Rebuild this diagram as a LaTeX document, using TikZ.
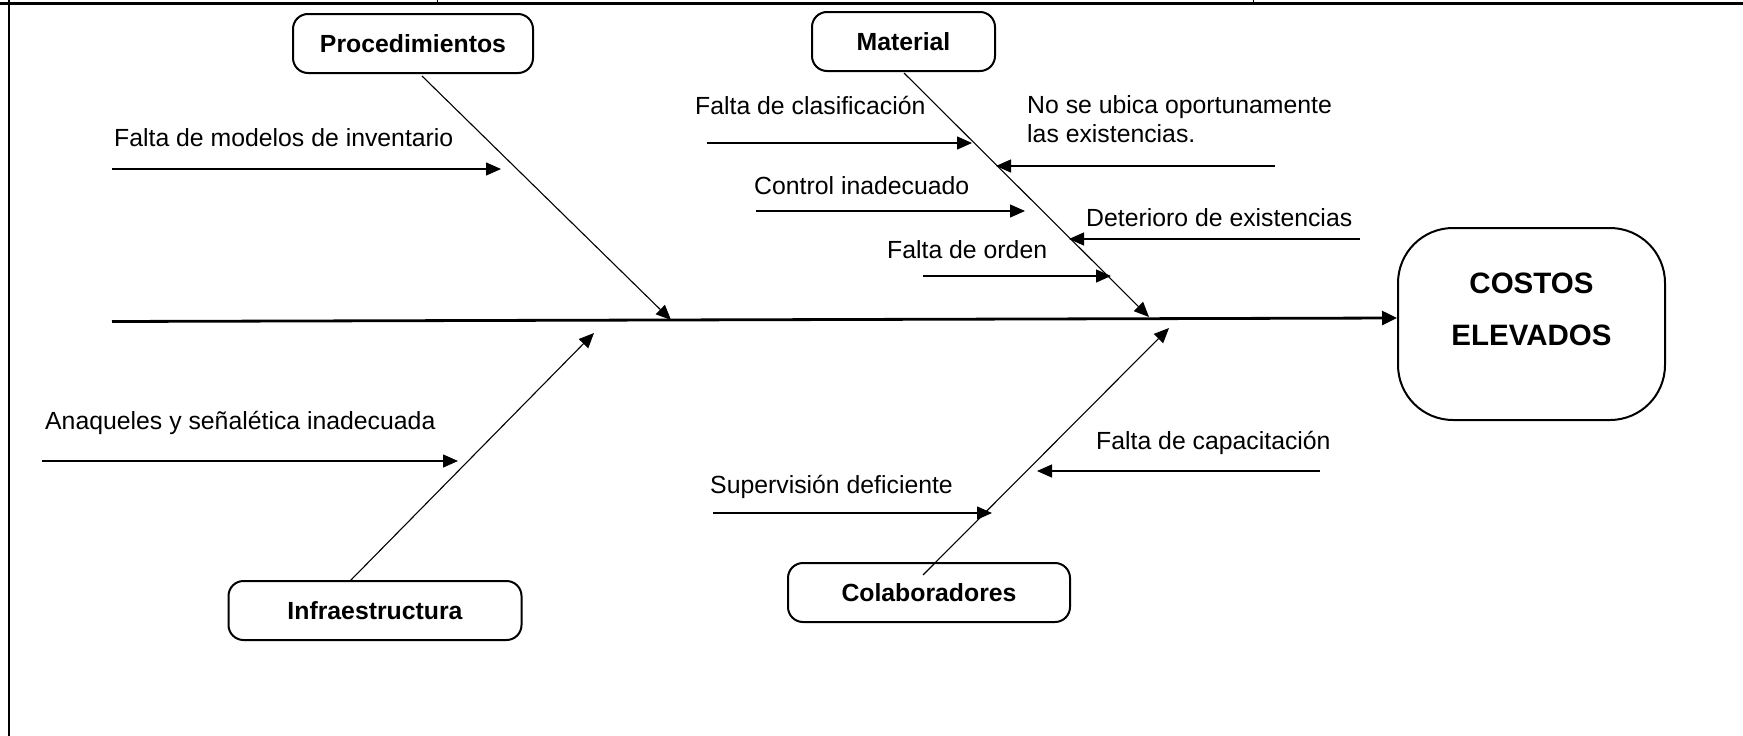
\documentclass[tikz,border=0pt]{standalone}
\usepackage{fontspec}
\setmainfont{Liberation Sans}
\usetikzlibrary{arrows.meta}
\tikzset{
  catbox/.style={draw, line width=2pt, rounded corners=15pt, inner sep=0pt,
    font=\bfseries\fontsize{24.8}{30}\selectfont},
  effbox/.style={draw, line width=2pt, rounded corners=55pt, inner sep=0pt},
  lbl/.style={font=\fontsize{24.8}{29}\selectfont, anchor=base west, inner sep=0pt},
  cause/.style={line width=1.3pt, -{Triangle[length=15pt,width=13pt]}},
  bone/.style={line width=1.1pt, -{Triangle[length=15pt,width=13pt]}},
  spine/.style={line width=2.8pt, -{Triangle[length=15pt,width=14pt]}},
  frame/.style={line width=2.4pt}
}
\begin{document}
\begin{tikzpicture}[x=1pt,y=-1pt]
\useasboundingbox (0,0) rectangle (1743,736);
% frame
\draw[frame] (0,3.3) -- (1743,3.3);
\draw[frame] (8.7,0) -- (8.7,736);
\draw[line width=1pt] (437,0) -- (437,3);
\draw[line width=1pt] (1253,0) -- (1253,3);

% category boxes
\node[catbox, minimum width=240pt, minimum height=59pt] (proc) at (413,43.5) {Procedimientos};
\node[catbox, minimum width=183pt, minimum height=59pt] (mat) at (903.5,41.5) {Material};
\node[catbox, minimum width=293pt, minimum height=59pt] (infra) at (375,610.5) {Infraestructura};
\node[catbox, minimum width=282pt, minimum height=59pt] (colab) at (929,592.5) {Colaboradores};

% effect box
\node[effbox, minimum width=267pt, minimum height=192pt] (costos) at (1531.5,324) {};
\node[font=\bfseries\fontsize{29.5}{52}\selectfont, align=center, inner sep=0pt] (costostxt) at (1531.5,309) {COSTOS\\ELEVADOS};

% spine
\coordinate (s0) at (112,321.5);
\draw[spine] (s0) -- ([yshift=6pt]costos.west);

% bones
\coordinate (pb) at (422,76);
\coordinate (pe) at (671,320);
\draw[bone] (pb) -- (pe);
\coordinate (mb) at (904,73);
\coordinate (me) at (1149,317);
\draw[bone] (mb) -- (me);
\coordinate (ib) at (350,581);
\coordinate (ie) at (594,333);
\draw[bone] (ib) -- (ie);
\coordinate (cb) at (923,575);
\coordinate (ce) at (1169,328);
\draw[bone] (cb) -- (ce);

% cause labels
\node[lbl] (t1) at (114,146) {Falta de modelos de inventario};
\node[lbl] (t2) at (695,114) {Falta de clasificación};
\node[lbl, align=left] (t3) at (1027,142) {No se ubica oportunamente\\las existencias.};
\node[lbl] (t4) at (754,194) {Control inadecuado};
\node[lbl] (t5) at (1086,226) {Deterioro de existencias};
\node[lbl] (t6) at (887,258) {Falta de orden};
\node[lbl] (t7) at (45,429) {Anaqueles y señalética inadecuada};
\node[lbl] (t8) at (1096,449) {Falta de capacitación};
\node[lbl] (t9) at (710,493) {Supervisión deficiente};

% cause arrows
\coordinate (a1s) at (112,169);  \coordinate (a1e) at (501,169);
\coordinate (a2s) at (707,143);  \coordinate (a2e) at (972,143);
\coordinate (a3s) at (1275,166); \coordinate (a3e) at (996,166);
\coordinate (a4s) at (756,211);  \coordinate (a4e) at (1025,211);
\coordinate (a5s) at (1360,239); \coordinate (a5e) at (1069,239);
\coordinate (a6s) at (923,276);  \coordinate (a6e) at (1111,276);
\coordinate (a7s) at (42,461);   \coordinate (a7e) at (458,461);
\coordinate (a8s) at (1320,471); \coordinate (a8e) at (1037,471);
\coordinate (a9s) at (713,513);  \coordinate (a9e) at (992,513);
\foreach \i in {1,...,9} {\draw[cause] (a\i s) -- (a\i e);}
\end{tikzpicture}
\end{document}
